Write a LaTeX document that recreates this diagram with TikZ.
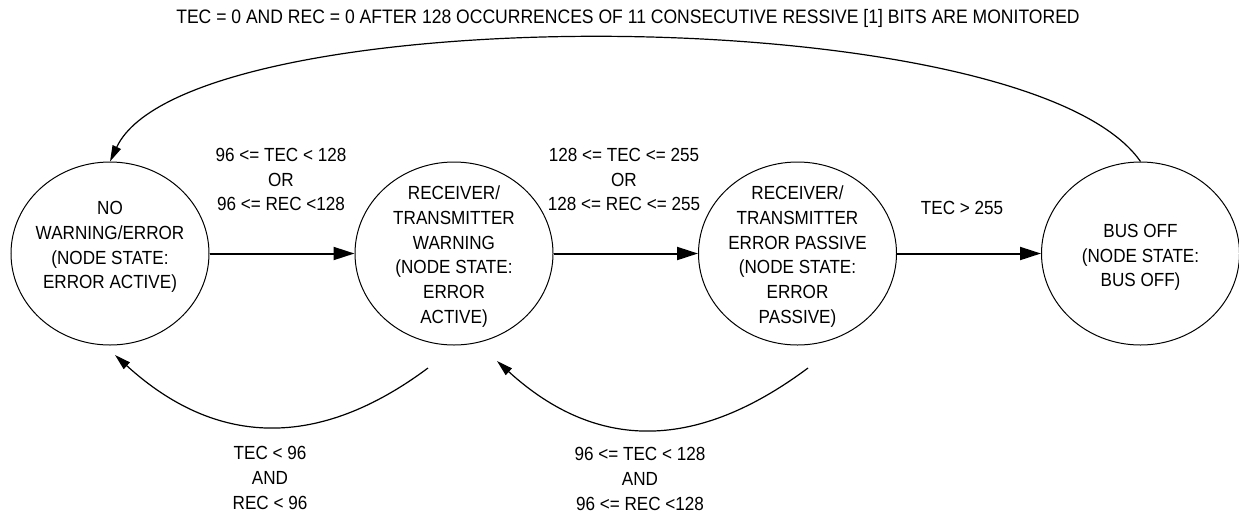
\documentclass[tikz,border=0pt]{standalone}
\usepackage{fontspec}
\setmainfont[FakeStretch=0.9]{Liberation Sans}
\usetikzlibrary{shapes.geometric,arrows.meta}
\newcommand\lblfont{\fontsize{19}{24.75}\selectfont}
\begin{document}
\begin{tikzpicture}[x=1pt,y=-1pt,
  state/.style={draw, ellipse, line width=1pt, minimum width=198pt, minimum height=183pt, inner sep=0pt},
  lbl/.style={align=center, font=\lblfont, inner sep=0pt},
  harrow/.style={line width=2pt, -{Triangle[length=21pt,width=13pt]}},
  carrow/.style={line width=1.2pt, -{Triangle[length=16pt,width=9pt]}}]
\useasboundingbox (0,0) rectangle (1239,515);
% states
\node[state] (c1) at (110,253.5) {};
\node[state] (c2) at (454,253.5) {};
\node[state] (c3) at (797.5,253.5) {};
\node[state] (c4) at (1140.5,253.5) {};
\node[lbl] (c1t) at (110,247) {NO\\WARNING/ERROR\\(NODE STATE:\\ERROR ACTIVE)};
\node[lbl] (c2t) at (454,256.5) {RECEIVER/\\TRANSMITTER\\WARNING\\(NODE STATE:\\ERROR\\ACTIVE)};
\node[lbl] (c3t) at (797.5,256.5) {RECEIVER/\\TRANSMITTER\\ERROR PASSIVE\\(NODE STATE:\\ERROR\\PASSIVE)};
\node[lbl] (c4t) at (1140.5,257.5) {BUS OFF\\(NODE STATE:\\BUS OFF)};
% labels
\node[lbl, font=\fontsize{19.5}{24}\selectfont] (title) at (628,18) {TEC = 0 AND REC = 0 AFTER 128 OCCURRENCES OF 11 CONSECUTIVE RESSIVE [1] BITS ARE MONITORED};
\node[lbl] (l12) at (281,179.5) {96 <= TEC < 128\\OR\\96 <= REC <128};
\node[lbl] (l23) at (624,179.5) {128 <= TEC <= 255\\OR\\128 <= REC <= 255};
\node[lbl] (l34) at (962,208) {TEC > 255};
\node[lbl] (l21) at (270,478) {TEC < 96\\AND\\REC < 96};
\node[lbl] (l32) at (640,479) {96 <= TEC < 128\\AND\\96 <= REC <128};
% forward transitions
\draw[harrow] (c1) -- (c2);
\draw[harrow] (c2) -- (c3);
\draw[harrow] (c3) -- (c4);
% recovery from bus off
\draw[carrow] (c4.north) .. controls (1026,-3) and (187,-3) .. (c1.north);
% backward transitions
\coordinate (s21) at (428,368);
\coordinate (e21) at (115,355);
\draw[carrow] (s21) .. controls (318,450) and (216,447) .. (e21);
\coordinate (s32) at (808,368);
\coordinate (e32) at (497,361);
\draw[carrow] (s32) .. controls (698,450) and (598,453) .. (e32);
\end{tikzpicture}
\end{document}
